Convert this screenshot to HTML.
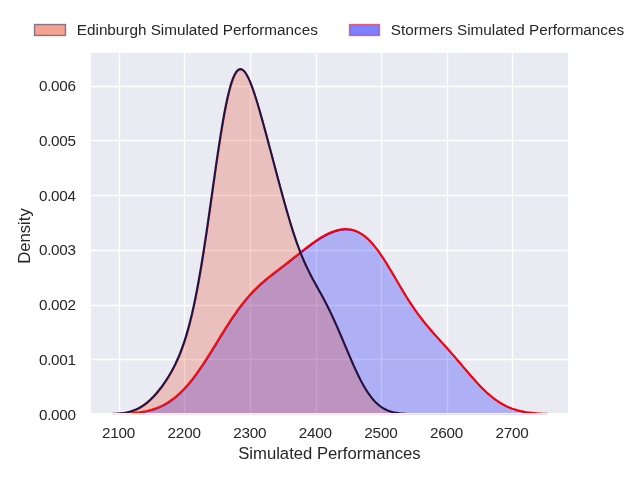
<!DOCTYPE html>
<html lang="en">
<head>
<meta charset="utf-8">
<title>Simulated Performances</title>
<style>
html,body{margin:0;padding:0;background:#fff;}
body{width:640px;height:480px;overflow:hidden;}
svg{display:block;}
text{font-family:"Liberation Sans",sans-serif;fill:#262626;}
.t11{font-size:15.2778px;}
.t12{font-size:16.6667px;}
</style>
</head>
<body>
<svg width="640" height="480" viewBox="0 0 640 480">
<defs><clipPath id="ax"><rect x="91" y="53" width="477" height="360"/></clipPath></defs>
<rect x="0" y="0" width="640" height="480" fill="#ffffff"/>
<rect x="90.87" y="52.87" width="477.26" height="360.26" fill="#eaeaf2"/>
<g stroke="#ffffff" stroke-width="1.389" fill="none">
<path d="M119.5 52.87V413.13"/>
<path d="M184.5 52.87V413.13"/>
<path d="M250.5 52.87V413.13"/>
<path d="M316.5 52.87V413.13"/>
<path d="M381.5 52.87V413.13"/>
<path d="M447.5 52.87V413.13"/>
<path d="M512.5 52.87V413.13"/>
<path d="M90.87 359.5H568.13"/>
<path d="M90.87 305.5H568.13"/>
<path d="M90.87 250.5H568.13"/>
<path d="M90.87 195.5H568.13"/>
<path d="M90.87 140.5H568.13"/>
<path d="M90.87 86.5H568.13"/>
</g>
<g clip-path="url(#ax)">
<path transform="translate(0.5 0.5)" d="M113.00 414.25 L113.00 414.04 L115.18 414.00 L117.36 413.94 L119.55 413.87 L121.73 413.79 L123.91 413.69 L126.09 413.57 L128.27 413.44 L130.46 413.28 L132.64 413.09 L134.82 412.87 L137.00 412.62 L139.18 412.33 L141.36 411.99 L143.55 411.61 L145.73 411.18 L147.91 410.68 L150.09 410.12 L152.27 409.49 L154.46 408.78 L156.64 408.00 L158.82 407.12 L161.00 406.15 L163.18 405.07 L165.37 403.90 L167.55 402.61 L169.73 401.20 L171.91 399.68 L174.09 398.02 L176.28 396.25 L178.46 394.34 L180.64 392.29 L182.82 390.12 L185.00 387.81 L187.18 385.37 L189.37 382.81 L191.55 380.11 L193.73 377.30 L195.91 374.37 L198.09 371.33 L200.28 368.19 L202.46 364.96 L204.64 361.65 L206.82 358.27 L209.00 354.83 L211.19 351.34 L213.37 347.81 L215.55 344.27 L217.73 340.71 L219.91 337.16 L222.10 333.63 L224.28 330.13 L226.46 326.67 L228.64 323.27 L230.82 319.93 L233.01 316.67 L235.19 313.50 L237.37 310.42 L239.55 307.43 L241.73 304.55 L243.91 301.78 L246.10 299.12 L248.28 296.57 L250.46 294.13 L252.64 291.79 L254.82 289.55 L257.01 287.41 L259.19 285.35 L261.37 283.37 L263.55 281.47 L265.73 279.62 L267.92 277.83 L270.10 276.08 L272.28 274.36 L274.46 272.67 L276.64 270.99 L278.83 269.32 L281.01 267.65 L283.19 265.97 L285.37 264.29 L287.55 262.59 L289.73 260.88 L291.92 259.17 L294.10 257.44 L296.28 255.70 L298.46 253.97 L300.64 252.24 L302.83 250.51 L305.01 248.81 L307.19 247.13 L309.37 245.47 L311.55 243.86 L313.74 242.30 L315.92 240.79 L318.10 239.33 L320.28 237.95 L322.46 236.64 L324.65 235.41 L326.83 234.27 L329.01 233.23 L331.19 232.28 L333.37 231.44 L335.55 230.72 L337.74 230.12 L339.92 229.65 L342.10 229.32 L344.28 229.13 L346.46 229.10 L348.65 229.24 L350.83 229.56 L353.01 230.06 L355.19 230.76 L357.37 231.66 L359.56 232.77 L361.74 234.09 L363.92 235.63 L366.10 237.40 L368.28 239.38 L370.47 241.58 L372.65 244.00 L374.83 246.62 L377.01 249.43 L379.19 252.42 L381.37 255.57 L383.56 258.87 L385.74 262.30 L387.92 265.83 L390.10 269.44 L392.28 273.12 L394.47 276.83 L396.65 280.55 L398.83 284.27 L401.01 287.96 L403.19 291.60 L405.38 295.18 L407.56 298.69 L409.74 302.10 L411.92 305.43 L414.10 308.65 L416.29 311.77 L418.47 314.78 L420.65 317.69 L422.83 320.51 L425.01 323.24 L427.19 325.89 L429.38 328.47 L431.56 330.99 L433.74 333.47 L435.92 335.91 L438.10 338.33 L440.29 340.74 L442.47 343.15 L444.65 345.56 L446.83 347.99 L449.01 350.44 L451.20 352.91 L453.38 355.40 L455.56 357.92 L457.74 360.46 L459.92 363.01 L462.11 365.58 L464.29 368.14 L466.47 370.71 L468.65 373.25 L470.83 375.78 L473.02 378.27 L475.20 380.71 L477.38 383.10 L479.56 385.42 L481.74 387.66 L483.92 389.83 L486.11 391.90 L488.29 393.87 L490.47 395.75 L492.65 397.52 L494.83 399.18 L497.02 400.73 L499.20 402.17 L501.38 403.50 L503.56 404.72 L505.74 405.84 L507.93 406.86 L510.11 407.78 L512.29 408.61 L514.47 409.36 L516.65 410.02 L518.84 410.61 L521.02 411.14 L523.20 411.59 L525.38 411.99 L527.56 412.34 L529.74 412.64 L531.93 412.90 L534.11 413.13 L536.29 413.32 L538.47 413.48 L540.65 413.61 L542.84 413.73 L545.02 413.82 L547.20 413.90 L547.20 414.25Z" fill="#0000ff" fill-opacity="0.25" stroke="#0000ff" stroke-width="1.389" stroke-linejoin="round"/>
<path transform="translate(0.0 0.0)" d="M113.00 414.04 L115.18 414.00 L117.36 413.94 L119.55 413.87 L121.73 413.79 L123.91 413.69 L126.09 413.57 L128.27 413.44 L130.46 413.28 L132.64 413.09 L134.82 412.87 L137.00 412.62 L139.18 412.33 L141.36 411.99 L143.55 411.61 L145.73 411.18 L147.91 410.68 L150.09 410.12 L152.27 409.49 L154.46 408.78 L156.64 408.00 L158.82 407.12 L161.00 406.15 L163.18 405.07 L165.37 403.90 L167.55 402.61 L169.73 401.20 L171.91 399.68 L174.09 398.02 L176.28 396.25 L178.46 394.34 L180.64 392.29 L182.82 390.12 L185.00 387.81 L187.18 385.37 L189.37 382.81 L191.55 380.11 L193.73 377.30 L195.91 374.37 L198.09 371.33 L200.28 368.19 L202.46 364.96 L204.64 361.65 L206.82 358.27 L209.00 354.83 L211.19 351.34 L213.37 347.81 L215.55 344.27 L217.73 340.71 L219.91 337.16 L222.10 333.63 L224.28 330.13 L226.46 326.67 L228.64 323.27 L230.82 319.93 L233.01 316.67 L235.19 313.50 L237.37 310.42 L239.55 307.43 L241.73 304.55 L243.91 301.78 L246.10 299.12 L248.28 296.57 L250.46 294.13 L252.64 291.79 L254.82 289.55 L257.01 287.41 L259.19 285.35 L261.37 283.37 L263.55 281.47 L265.73 279.62 L267.92 277.83 L270.10 276.08 L272.28 274.36 L274.46 272.67 L276.64 270.99 L278.83 269.32 L281.01 267.65 L283.19 265.97 L285.37 264.29 L287.55 262.59 L289.73 260.88 L291.92 259.17 L294.10 257.44 L296.28 255.70 L298.46 253.97 L300.64 252.24 L302.83 250.51 L305.01 248.81 L307.19 247.13 L309.37 245.47 L311.55 243.86 L313.74 242.30 L315.92 240.79 L318.10 239.33 L320.28 237.95 L322.46 236.64 L324.65 235.41 L326.83 234.27 L329.01 233.23 L331.19 232.28 L333.37 231.44 L335.55 230.72 L337.74 230.12 L339.92 229.65 L342.10 229.32 L344.28 229.13 L346.46 229.10 L348.65 229.24 L350.83 229.56 L353.01 230.06 L355.19 230.76 L357.37 231.66 L359.56 232.77 L361.74 234.09 L363.92 235.63 L366.10 237.40 L368.28 239.38 L370.47 241.58 L372.65 244.00 L374.83 246.62 L377.01 249.43 L379.19 252.42 L381.37 255.57 L383.56 258.87 L385.74 262.30 L387.92 265.83 L390.10 269.44 L392.28 273.12 L394.47 276.83 L396.65 280.55 L398.83 284.27 L401.01 287.96 L403.19 291.60 L405.38 295.18 L407.56 298.69 L409.74 302.10 L411.92 305.43 L414.10 308.65 L416.29 311.77 L418.47 314.78 L420.65 317.69 L422.83 320.51 L425.01 323.24 L427.19 325.89 L429.38 328.47 L431.56 330.99 L433.74 333.47 L435.92 335.91 L438.10 338.33 L440.29 340.74 L442.47 343.15 L444.65 345.56 L446.83 347.99 L449.01 350.44 L451.20 352.91 L453.38 355.40 L455.56 357.92 L457.74 360.46 L459.92 363.01 L462.11 365.58 L464.29 368.14 L466.47 370.71 L468.65 373.25 L470.83 375.78 L473.02 378.27 L475.20 380.71 L477.38 383.10 L479.56 385.42 L481.74 387.66 L483.92 389.83 L486.11 391.90 L488.29 393.87 L490.47 395.75 L492.65 397.52 L494.83 399.18 L497.02 400.73 L499.20 402.17 L501.38 403.50 L503.56 404.72 L505.74 405.84 L507.93 406.86 L510.11 407.78 L512.29 408.61 L514.47 409.36 L516.65 410.02 L518.84 410.61 L521.02 411.14 L523.20 411.59 L525.38 411.99 L527.56 412.34 L529.74 412.64 L531.93 412.90 L534.11 413.13 L536.29 413.32 L538.47 413.48 L540.65 413.61 L542.84 413.73 L545.02 413.82 L547.20 413.90" fill="none" stroke="#ff0000" stroke-width="2.083" stroke-linejoin="round" stroke-linecap="round"/>
<path transform="translate(0.5 0.5)" d="M111.65 414.25 L111.65 413.97 L113.13 413.91 L114.62 413.83 L116.10 413.74 L117.59 413.63 L119.07 413.50 L120.56 413.34 L122.04 413.16 L123.52 412.95 L125.01 412.70 L126.49 412.42 L127.98 412.09 L129.46 411.72 L130.94 411.30 L132.43 410.83 L133.91 410.30 L135.40 409.71 L136.88 409.05 L138.37 408.32 L139.85 407.52 L141.33 406.64 L142.82 405.69 L144.30 404.66 L145.79 403.55 L147.27 402.36 L148.75 401.08 L150.24 399.72 L151.72 398.29 L153.21 396.77 L154.69 395.17 L156.18 393.50 L157.66 391.74 L159.14 389.91 L160.63 388.00 L162.11 386.01 L163.60 383.94 L165.08 381.78 L166.56 379.54 L168.05 377.19 L169.53 374.74 L171.02 372.18 L172.50 369.49 L173.99 366.66 L175.47 363.67 L176.95 360.50 L178.44 357.14 L179.92 353.56 L181.41 349.74 L182.89 345.66 L184.37 341.30 L185.86 336.62 L187.34 331.62 L188.83 326.25 L190.31 320.52 L191.80 314.39 L193.28 307.86 L194.76 300.91 L196.25 293.55 L197.73 285.76 L199.22 277.56 L200.70 268.96 L202.18 259.97 L203.67 250.63 L205.15 240.97 L206.64 231.03 L208.12 220.85 L209.61 210.50 L211.09 200.04 L212.57 189.52 L214.06 179.03 L215.54 168.63 L217.03 158.41 L218.51 148.43 L219.99 138.79 L221.48 129.55 L222.96 120.78 L224.45 112.55 L225.93 104.93 L227.42 97.96 L228.90 91.69 L230.38 86.16 L231.87 81.39 L233.35 77.41 L234.84 74.21 L236.32 71.79 L237.80 70.15 L239.29 69.26 L240.77 69.09 L242.26 69.61 L243.74 70.77 L245.23 72.54 L246.71 74.85 L248.19 77.67 L249.68 80.94 L251.16 84.61 L252.65 88.62 L254.13 92.94 L255.61 97.52 L257.10 102.31 L258.58 107.28 L260.07 112.40 L261.55 117.64 L263.04 122.98 L264.52 128.39 L266.00 133.86 L267.49 139.38 L268.97 144.93 L270.46 150.50 L271.94 156.09 L273.42 161.68 L274.91 167.27 L276.39 172.86 L277.88 178.42 L279.36 183.96 L280.85 189.47 L282.33 194.92 L283.81 200.31 L285.30 205.62 L286.78 210.85 L288.27 215.97 L289.75 220.97 L291.23 225.84 L292.72 230.57 L294.20 235.15 L295.69 239.56 L297.17 243.80 L298.66 247.88 L300.14 251.78 L301.62 255.51 L303.11 259.08 L304.59 262.49 L306.08 265.76 L307.56 268.89 L309.04 271.90 L310.53 274.82 L312.01 277.65 L313.50 280.41 L314.98 283.12 L316.47 285.81 L317.95 288.48 L319.43 291.16 L320.92 293.85 L322.40 296.58 L323.89 299.35 L325.37 302.18 L326.85 305.06 L328.34 308.01 L329.82 311.03 L331.31 314.13 L332.79 317.29 L334.28 320.52 L335.76 323.82 L337.24 327.17 L338.73 330.58 L340.21 334.04 L341.70 337.53 L343.18 341.04 L344.66 344.57 L346.15 348.10 L347.63 351.62 L349.12 355.12 L350.60 358.58 L352.09 362.00 L353.57 365.36 L355.05 368.64 L356.54 371.85 L358.02 374.96 L359.51 377.96 L360.99 380.85 L362.47 383.62 L363.96 386.27 L365.44 388.78 L366.93 391.15 L368.41 393.38 L369.90 395.47 L371.38 397.42 L372.86 399.23 L374.35 400.90 L375.83 402.43 L377.32 403.83 L378.80 405.10 L380.28 406.25 L381.77 407.29 L383.25 408.22 L384.74 409.05 L386.22 409.78 L387.71 410.43 L389.19 411.00 L390.67 411.50 L392.16 411.93 L393.64 412.30 L395.13 412.62 L396.61 412.89 L398.09 413.13 L399.58 413.33 L401.06 413.49 L402.55 413.63 L404.03 413.75 L405.52 413.84 L407.00 413.92 L407.00 414.25Z" fill="#e94523" fill-opacity="0.25" stroke="#e94523" stroke-width="1.389" stroke-linejoin="round"/>
<path transform="translate(0.0 0.0)" d="M111.65 413.97 L113.13 413.91 L114.62 413.83 L116.10 413.74 L117.59 413.63 L119.07 413.50 L120.56 413.34 L122.04 413.16 L123.52 412.95 L125.01 412.70 L126.49 412.42 L127.98 412.09 L129.46 411.72 L130.94 411.30 L132.43 410.83 L133.91 410.30 L135.40 409.71 L136.88 409.05 L138.37 408.32 L139.85 407.52 L141.33 406.64 L142.82 405.69 L144.30 404.66 L145.79 403.55 L147.27 402.36 L148.75 401.08 L150.24 399.72 L151.72 398.29 L153.21 396.77 L154.69 395.17 L156.18 393.50 L157.66 391.74 L159.14 389.91 L160.63 388.00 L162.11 386.01 L163.60 383.94 L165.08 381.78 L166.56 379.54 L168.05 377.19 L169.53 374.74 L171.02 372.18 L172.50 369.49 L173.99 366.66 L175.47 363.67 L176.95 360.50 L178.44 357.14 L179.92 353.56 L181.41 349.74 L182.89 345.66 L184.37 341.30 L185.86 336.62 L187.34 331.62 L188.83 326.25 L190.31 320.52 L191.80 314.39 L193.28 307.86 L194.76 300.91 L196.25 293.55 L197.73 285.76 L199.22 277.56 L200.70 268.96 L202.18 259.97 L203.67 250.63 L205.15 240.97 L206.64 231.03 L208.12 220.85 L209.61 210.50 L211.09 200.04 L212.57 189.52 L214.06 179.03 L215.54 168.63 L217.03 158.41 L218.51 148.43 L219.99 138.79 L221.48 129.55 L222.96 120.78 L224.45 112.55 L225.93 104.93 L227.42 97.96 L228.90 91.69 L230.38 86.16 L231.87 81.39 L233.35 77.41 L234.84 74.21 L236.32 71.79 L237.80 70.15 L239.29 69.26 L240.77 69.09 L242.26 69.61 L243.74 70.77 L245.23 72.54 L246.71 74.85 L248.19 77.67 L249.68 80.94 L251.16 84.61 L252.65 88.62 L254.13 92.94 L255.61 97.52 L257.10 102.31 L258.58 107.28 L260.07 112.40 L261.55 117.64 L263.04 122.98 L264.52 128.39 L266.00 133.86 L267.49 139.38 L268.97 144.93 L270.46 150.50 L271.94 156.09 L273.42 161.68 L274.91 167.27 L276.39 172.86 L277.88 178.42 L279.36 183.96 L280.85 189.47 L282.33 194.92 L283.81 200.31 L285.30 205.62 L286.78 210.85 L288.27 215.97 L289.75 220.97 L291.23 225.84 L292.72 230.57 L294.20 235.15 L295.69 239.56 L297.17 243.80 L298.66 247.88 L300.14 251.78 L301.62 255.51 L303.11 259.08 L304.59 262.49 L306.08 265.76 L307.56 268.89 L309.04 271.90 L310.53 274.82 L312.01 277.65 L313.50 280.41 L314.98 283.12 L316.47 285.81 L317.95 288.48 L319.43 291.16 L320.92 293.85 L322.40 296.58 L323.89 299.35 L325.37 302.18 L326.85 305.06 L328.34 308.01 L329.82 311.03 L331.31 314.13 L332.79 317.29 L334.28 320.52 L335.76 323.82 L337.24 327.17 L338.73 330.58 L340.21 334.04 L341.70 337.53 L343.18 341.04 L344.66 344.57 L346.15 348.10 L347.63 351.62 L349.12 355.12 L350.60 358.58 L352.09 362.00 L353.57 365.36 L355.05 368.64 L356.54 371.85 L358.02 374.96 L359.51 377.96 L360.99 380.85 L362.47 383.62 L363.96 386.27 L365.44 388.78 L366.93 391.15 L368.41 393.38 L369.90 395.47 L371.38 397.42 L372.86 399.23 L374.35 400.90 L375.83 402.43 L377.32 403.83 L378.80 405.10 L380.28 406.25 L381.77 407.29 L383.25 408.22 L384.74 409.05 L386.22 409.78 L387.71 410.43 L389.19 411.00 L390.67 411.50 L392.16 411.93 L393.64 412.30 L395.13 412.62 L396.61 412.89 L398.09 413.13 L399.58 413.33 L401.06 413.49 L402.55 413.63 L404.03 413.75 L405.52 413.84 L407.00 413.92" fill="none" stroke="#1e1446" stroke-width="2.083" stroke-linejoin="round" stroke-linecap="round"/>
</g>
<rect x="113.50" y="413" width="434.20" height="0.13" fill="#0000ff" fill-opacity="0.25"/>
<rect x="112.15" y="413" width="295.35" height="0.13" fill="#e94523" fill-opacity="0.25"/>
<rect x="113.00" y="414" width="434.20" height="1" fill="#0000ff" fill-opacity="0.13"/>
<rect x="111.35" y="414" width="296.25" height="1" fill="#ffffff"/>
<rect x="111.35" y="414" width="296.25" height="1" fill="#e94523" fill-opacity="0.14"/>
<g class="t11" text-anchor="middle" style="letter-spacing:-0.2px">
<text x="118.59" y="437.52">2100</text>
<text x="184.17" y="437.52">2200</text>
<text x="249.75" y="437.52">2300</text>
<text x="315.33" y="437.52">2400</text>
<text x="380.91" y="437.52">2500</text>
<text x="446.49" y="437.52">2600</text>
<text x="512.07" y="437.52">2700</text>
</g>
<g class="t11" text-anchor="end" style="letter-spacing:-0.3px">
<text x="75.68" y="419.79">0.000</text>
<text x="75.68" y="365.02">0.001</text>
<text x="75.68" y="310.25">0.002</text>
<text x="75.68" y="255.48">0.003</text>
<text x="75.68" y="200.71">0.004</text>
<text x="75.68" y="145.94">0.005</text>
<text x="75.68" y="91.17">0.006</text>
</g>
<text class="t12" text-anchor="middle" x="329.42" y="458.82">Simulated Performances</text>
<text class="t12" text-anchor="middle" transform="translate(29.94 236.06) rotate(-90)">Density</text>
<rect x="34.5" y="24.5" width="31" height="11" fill="#e94523" fill-opacity="0.5" stroke="#1e1446" stroke-opacity="0.5" stroke-width="1.389"/>
<text class="t11" x="76.82" y="34.94">Edinburgh Simulated Performances</text>
<rect x="349.5" y="24.5" width="30" height="11" fill="#0000ff" fill-opacity="0.5" stroke="#ff0000" stroke-opacity="0.5" stroke-width="1.389"/>
<text class="t11" x="390.81" y="34.94">Stormers Simulated Performances</text>
</svg>
</body>
</html>
